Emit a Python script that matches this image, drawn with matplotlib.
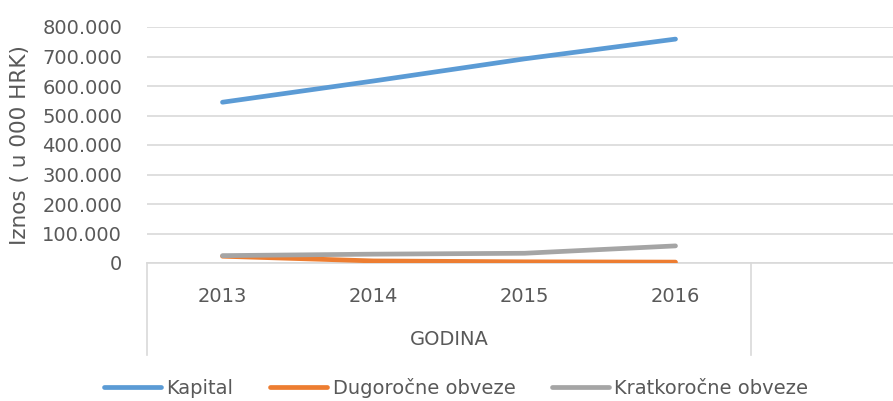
import numpy as np
import matplotlib.pyplot as plt
import matplotlib.transforms as mtransforms

years = ['2013', '2014', '2015', '2016']
kapital = [545000, 617000, 692000, 759000]
dugorocne = [23000, 7000, 4000, 3000]
kratkorocne = [25000, 30000, 33000, 58000]
series_names = ['Kapital', 'Dugoročne obveze', 'Kratkoročne obveze']
y_ticks = [0, 100000, 200000, 300000, 400000, 500000, 600000, 700000, 800000]

text_col = '#595959'
grid_col = '#d9d9d9'
colors = ['#5b9bd5', '#ed7d31', '#a5a5a5']

plt.rcParams['font.family'] = ['DejaVu Sans']

fig = plt.figure(figsize=(8.93, 4.01), dpi=100)
# plot area runs past the right edge, like the cropped Excel chart
ax = fig.add_axes([147/893, 138/401, 755/893, 236/401])

x = np.arange(1, len(years) + 1)
for vals, name, col in zip([kapital, dugorocne, kratkorocne], series_names, colors):
    ax.plot(x, vals, color=col, lw=3.4, label=name,
            solid_capstyle='round', solid_joinstyle='round', zorder=3)

ax.set_xlim(0.5, 5.5)
ax.set_ylim(0, 800000)
ax.set_yticks(y_ticks)
ax.set_yticklabels([f'{v:,}'.replace(',', '.') for v in y_ticks])
ax.set_xticks(x)
ax.set_xticklabels(years)
ax.tick_params(axis='y', length=0, pad=18, labelsize=14, labelcolor=text_col)
ax.tick_params(axis='x', length=0, pad=17, labelsize=14, labelcolor=text_col)
ax.grid(axis='y', color=grid_col, lw=1.2)
ax.set_axisbelow(True)
for s in ['top', 'right', 'left']:
    ax.spines[s].set_visible(False)
ax.spines['bottom'].set_color(grid_col)
ax.spines['bottom'].set_linewidth(1.2)

ax.set_ylabel('Iznos ( u 000 HRK)', fontsize=15.5, color=text_col)
ax.yaxis.set_label_coords(-0.155, 0.5)

# separators for the outer category level
trans = mtransforms.blended_transform_factory(ax.transData, ax.transAxes)
for xs in [0.5, 4.5]:
    ax.plot([xs, xs], [0, -0.39], transform=trans, color=grid_col, lw=1.2, clip_on=False)
ax.text(2.5, -0.325, 'GODINA', transform=trans, ha='center', va='center',
        fontsize=14, color=text_col)

leg = fig.legend(loc='center', bbox_to_anchor=(0.511, 0.032), ncol=3, frameon=False,
                 fontsize=14, handlelength=2.9, handletextpad=0.3, columnspacing=1.9)
for t in leg.get_texts():
    t.set_color(text_col)

fig.savefig('out.png', dpi=100)
